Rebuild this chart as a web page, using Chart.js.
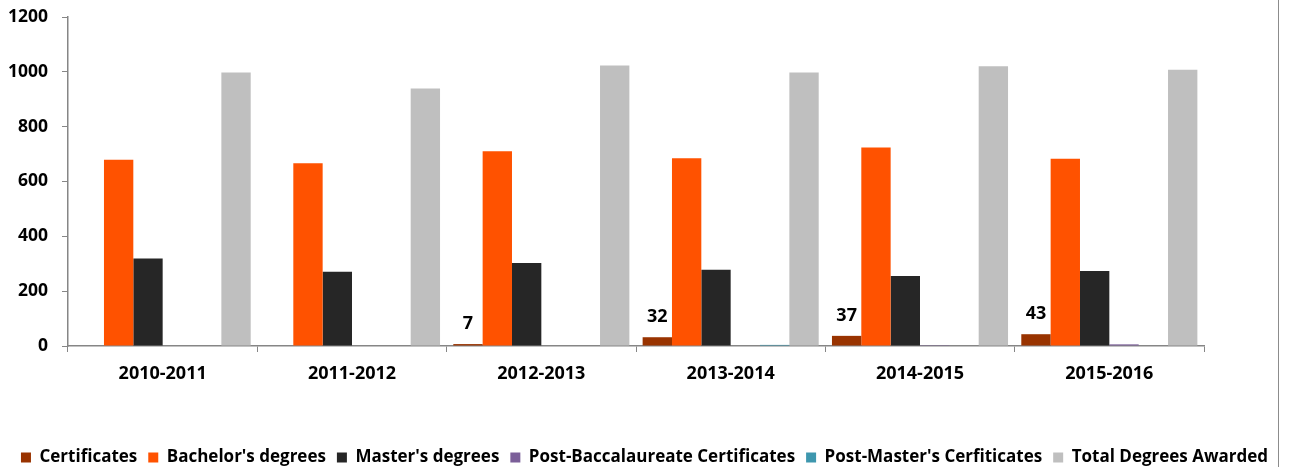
<!DOCTYPE html>
<html>
<head>
<meta charset="utf-8">
<script src="https://cdn.jsdelivr.net/npm/chart.js@4/dist/chart.umd.min.js"></script>
<style>
  html, body { margin: 0; padding: 0; background: #fff; }
  #wrap { position: relative; width: 1289px; height: 467px; }
  #edge { position: absolute; left: 1278px; top: 0; width: 1px; height: 467px; background: #8c8c8c; }
</style>
</head>
<body>
<div id="wrap">
  <canvas id="chart" width="1289" height="467"></canvas>
  <div id="edge"></div>
</div>
<script>
// academic years on the x axis
const years = ['2010-2011', '2011-2012', '2012-2013', '2013-2014', '2014-2015', '2015-2016'];

// series values
const certificates = [0, 0, 7, 32, 37, 43];
const bachelors = [679, 667, 710, 685, 724, 683];
const masters = [319, 271, 303, 278, 255, 274];
const postBacc = [0, 0, 0, 0, 3, 6];
const postMasters = [0, 0, 0, 4, 0, 0];
const totalDegrees = [998, 939, 1023, 998, 1020, 1008];

const yTicks = [0, 200, 400, 600, 800, 1000, 1200];

const axisGray = '#868686';
const fontFamily = '"Open Sans", Lato, sans-serif';

// draws the numbers above the Certificates bars (only the non-zero ones)
const certLabels = {
    id: 'certLabels',
    afterDatasetsDraw(chart) {
        const ctx = chart.ctx;
        const meta = chart.getDatasetMeta(0);
        ctx.save();
        ctx.font = 'bold 18px ' + fontFamily;
        ctx.fillStyle = '#000';
        ctx.textAlign = 'center';
        ctx.textBaseline = 'middle';
        meta.data.forEach((bar, i) => {
            const v = certificates[i];
            if (!v) return;
            ctx.fillText(String(v), bar.x, bar.y - 20);
        });
        ctx.restore();
    }
};

const ctx = document.getElementById('chart').getContext('2d');
new Chart(ctx, {
    type: 'bar',
    data: {
        labels: years,
        datasets: [
            { label: 'Certificates', data: certificates, backgroundColor: '#993300' },
            { label: "Bachelor's degrees", data: bachelors, backgroundColor: '#FF5200' },
            { label: "Master's degrees", data: masters, backgroundColor: '#262626' },
            { label: 'Post-Baccalaureate Certificates', data: postBacc, backgroundColor: '#7B5F99' },
            { label: "Post-Master's Cerfiticates", data: postMasters, backgroundColor: '#3E97AE' },
            { label: 'Total Degrees Awarded', data: totalDegrees, backgroundColor: '#BFBFBF' },
        ],
    },
    options: {
        animation: false,
        responsive: false,
        maintainAspectRatio: false,
        categoryPercentage: 0.93,
        barPercentage: 1.0,
        layout: {
            padding: { left: 0, right: 0, top: 17, bottom: -9 },
        },
        plugins: {
            tooltip: { enabled: false },
            legend: {
                position: 'bottom',
                labels: {
                    boxWidth: 10,
                    boxHeight: 10,
                    padding: 11,
                    color: '#000',
                    font: { family: fontFamily, size: 17, weight: 'bold' },
                },
            },
        },
        scales: {
            x: {
                grid: {
                    display: true,
                    drawOnChartArea: false,
                    drawTicks: true,
                    tickLength: 6,
                    color: axisGray,
                },
                border: { display: true, color: axisGray, width: 1.5 },
                ticks: {
                    color: '#000',
                    padding: 11,
                    font: { family: fontFamily, size: 18, weight: 'bold' },
                },
                afterFit(scale) { scale.height = 92; },
            },
            y: {
                min: 0,
                max: 1200,
                afterBuildTicks(scale) {
                    scale.ticks = yTicks.map(v => ({ value: v }));
                },
                grid: {
                    display: true,
                    drawOnChartArea: false,
                    drawTicks: true,
                    tickLength: 6,
                    color: axisGray,
                },
                border: { display: true, color: axisGray, width: 1.5 },
                ticks: {
                    color: '#000',
                    padding: 14,
                    font: { family: fontFamily, size: 17.5, weight: 'bold' },
                    callback: (v) => String(v),
                },
                afterFit(scale) {
                    scale.width = 68;
                    scale.paddingTop = 0;
                    scale.paddingBottom = 0;
                },
            },
            // empty right-hand axis that only reserves the blank strip right of the plot
            spacer: {
                type: 'linear',
                position: 'right',
                display: true,
                grid: { display: false },
                border: { display: false },
                ticks: { display: false },
                afterFit(scale) {
                    scale.width = 85;
                    scale.paddingTop = 0;
                    scale.paddingBottom = 0;
                },
            },
        },
    },
    plugins: [certLabels],
});
</script>
</body>
</html>
